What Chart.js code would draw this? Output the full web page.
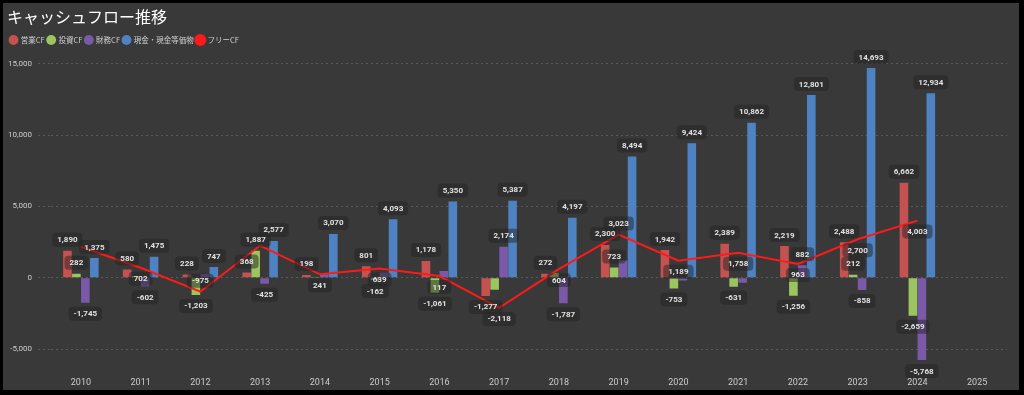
<!DOCTYPE html>
<html>
<head>
<meta charset="utf-8">
<script src="https://cdn.jsdelivr.net/npm/chart.js@4"></script>
<style>
  html, body { margin: 0; padding: 0; background: #000; }
  #wrap { position: absolute; left: 3px; top: 3px; width: 1016px; height: 387px; background: #393939; }
</style>
</head>
<body>
<div id="wrap"><canvas id="cfChart"></canvas></div>
<script>
// === data ===
const years = ["2010", "2011", "2012", "2013", "2014", "2015", "2016", "2017", "2018", "2019", "2020", "2021", "2022", "2023", "2024", "2025"];
const operatingCF = [1890, 580, 228, 368, 198, 801, 1178, -1277, 272, 2300, 1942, 2389, 2219, 2488, 6662, null];
const investingCF = [282, 122, -1203, 1887, 43, -162, -1061, -841, 332, 723, -753, -631, -1256, 212, -2659, null];
const financingCF = [-1745, -602, 260, -425, 280, 350, 480, 2174, -1787, 1200, -190, -350, 882, -858, -5768, null];
const cashEq = [1375, 1475, 747, 2577, 3070, 4093, 5350, 5387, 4197, 8494, 9424, 10862, 12801, 14693, 12934, null];
const freeCF = [2172, 702, -975, 2255, 241, 639, 117, -2118, 604, 3023, 1189, 1758, 963, 2700, 4003, null];
const yTicks = [-5000, 0, 5000, 10000, 15000];

// labels that the original hides (overlap)
const hiddenLabels = {
  "投資CF": ["2011", "2014", "2017", "2018"],
  "財務CF": ["2012", "2014", "2015", "2016", "2019", "2020", "2021"],
  "フリーCF": ["2010", "2013"],
};

const fmt = (v) => v.toLocaleString("en-US");

// === value labels (rounded boxes) ===
const valueLabels = {
  id: "valueLabels",
  afterDatasetsDraw(chart) {
    const ctx = chart.ctx;
    ctx.save();
    ctx.font = "bold 8px Roboto";
    ctx.textAlign = "center";
    ctx.textBaseline = "middle";
    const h = 14;
    const placed = []; // bar label centres per category, for the line labels
    const items = [];
    chart.data.datasets.forEach((ds, di) => {
      const meta = chart.getDatasetMeta(di);
      const hidden = hiddenLabels[ds.label] || [];
      meta.data.forEach((el, i) => {
        const v = ds.data[i];
        if (v === null || hidden.includes(years[i])) return;
        let y;
        if (ds.type === "line") {
          const below = el.y + 11, above = el.y - 11;
          const others = placed.filter((p) => p.i === i).map((p) => p.y);
          const hit = (yy) => others.reduce((s, o) => s + Math.max(0, h - Math.abs(o - yy)), 0);
          y = hit(above) < hit(below) ? above : below;
        } else {
          y = v >= 0 ? el.y - 11 : el.y + 11;
          placed.push({ i, y });
        }
        items.push({ x: el.x, y, txt: fmt(v) });
      });
    });
    items.forEach(({ x, y, txt }) => {
      const w = ctx.measureText(txt).width + 10;
      ctx.fillStyle = "rgba(36,36,36,0.5)";
      ctx.beginPath();
      ctx.roundRect(x - w / 2, y - h / 2, w, h, 4);
      ctx.fill();
      ctx.fillStyle = "#e2e2e2";
      ctx.fillText(txt, x, y + 0.5);
    });
    ctx.restore();
  },
};

const ctx = document.getElementById("cfChart").getContext("2d");
new Chart(ctx, {
  type: "bar",
  data: {
    labels: years,
    datasets: [
      { label: "営業CF", data: operatingCF, backgroundColor: "#c45251", order: 1 },
      { label: "投資CF", data: investingCF, backgroundColor: "#9cc45f", order: 1 },
      { label: "財務CF", data: financingCF, backgroundColor: "#7a5aa8", order: 1 },
      { label: "現金・現金等価物", data: cashEq, backgroundColor: "#4f82c2", order: 1 },
      {
        label: "フリーCF",
        type: "line",
        data: freeCF,
        borderColor: "#ff1a1a",
        backgroundColor: "#ff1a1a",
        borderWidth: 2,
        pointRadius: 0,
        tension: 0,
        order: 0,
      },
    ],
  },
  options: {
    responsive: true,
    maintainAspectRatio: false,
    animation: false,
    datasets: { bar: { categoryPercentage: 0.6, barPercentage: 0.96 } },
    layout: { padding: { left: 4, right: 12, top: 1, bottom: -10 } },
    plugins: {
      title: {
        display: true,
        text: "キャッシュフロー推移",
        align: "start",
        color: "#ffffff",
        font: { size: 16, family: "'Noto Sans CJK JP'", weight: "normal" },
        padding: { top: 3, bottom: 7 },
      },
      legend: {
        position: "top",
        align: "start",
        labels: {
          usePointStyle: true,
          pointStyle: "circle",
          boxWidth: 7,
          boxHeight: 7,
          padding: 3,
          color: "#d0d0d0",
          font: { size: 7.5, family: "'Noto Sans CJK JP'" },
          sort: (a, b) => a.datasetIndex - b.datasetIndex,
        },
      },
      tooltip: { enabled: false },
    },
    scales: {
      x: {
        grid: { display: false, drawTicks: false },
        border: { display: false },
        ticks: { color: "#cccccc", font: { size: 9, family: "Roboto" }, padding: 12 },
      },
      y: {
        min: -6130,
        max: 15700,
        afterFit: (scale) => {
          scale.width = 44;
        },
        afterBuildTicks: (scale) => {
          scale.ticks = yTicks.map((v) => ({ value: v }));
        },
        grid: {
          color: "#5a5a5a",
          lineWidth: 1,
          drawTicks: true,
          tickLength: 13,
          tickColor: "#5a5a5a",
          tickBorderDash: [2, 3],
        },
        border: { display: false, dash: [2, 3] },
        ticks: {
          color: "#cccccc",
          font: { size: 8, family: "Roboto" },
          padding: 6,
          callback: (v) => fmt(v),
        },
      },
    },
  },
  plugins: [valueLabels],
});
</script>
</body>
</html>
